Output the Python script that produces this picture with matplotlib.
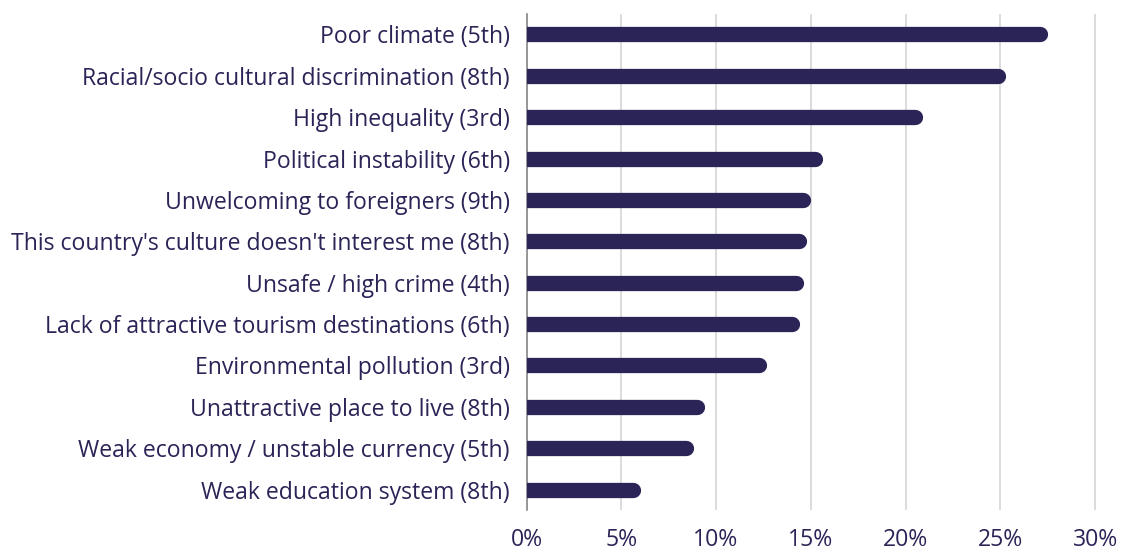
import matplotlib
matplotlib.use("Agg")
import matplotlib.pyplot as plt
from matplotlib.transforms import offset_copy

categories = [
    "Poor climate (5th)",
    "Racial/socio cultural discrimination (8th)",
    "High inequality (3rd)",
    "Political instability (6th)",
    "Unwelcoming to foreigners (9th)",
    "This country's culture doesn't interest me (8th)",
    "Unsafe / high crime (4th)",
    "Lack of attractive tourism destinations (6th)",
    "Environmental pollution (3rd)",
    "Unattractive place to live (8th)",
    "Weak economy / unstable currency (5th)",
    "Weak education system (8th)",
]
values = [27.5, 25.3, 20.9, 15.6, 15.0, 14.8, 14.6, 14.4, 12.65, 9.4, 8.8, 6.0]
ticks = [0, 5, 10, 15, 20, 25, 30]
tick_labels = ["0%", "5%", "10%", "15%", "20%", "25%", "30%"]

navy = "#2a2457"
plt.rcParams["font.family"] = ["Open Sans", "DejaVu Sans"]

fig = plt.figure(figsize=(11.25, 5.51), dpi=100)
ax = fig.add_axes([0.468, 0.074, 0.508, 0.901])

lw = 11
# shift left by half the line width so the round cap ends at the value
trans = offset_copy(ax.transData, fig=fig, x=-lw / 2, y=0, units="points")
for i, v in enumerate(values):
    ax.plot([0, v], [i, i], color=navy, lw=lw, solid_capstyle="round",
            transform=trans, zorder=3)

ax.set_xlim(0, 30.15)
ax.set_ylim(len(values) - 0.5, -0.5)
ax.set_yticks(range(len(categories)))
ax.set_yticklabels(categories, fontsize=16.6, color=navy)
ax.set_xticks(ticks)
ax.set_xticklabels(tick_labels, fontsize=16.6, color=navy)
ax.tick_params(axis="both", length=0)
ax.tick_params(axis="y", pad=12)
ax.tick_params(axis="x", pad=13)

ax.grid(axis="x", color="#d9d9d9", lw=1.3, zorder=0)
ax.set_axisbelow(True)
for s in ["top", "right", "bottom"]:
    ax.spines[s].set_visible(False)
ax.spines["left"].set_color("#888888")
ax.spines["left"].set_linewidth(1.2)

fig.savefig("out.png", dpi=100)
